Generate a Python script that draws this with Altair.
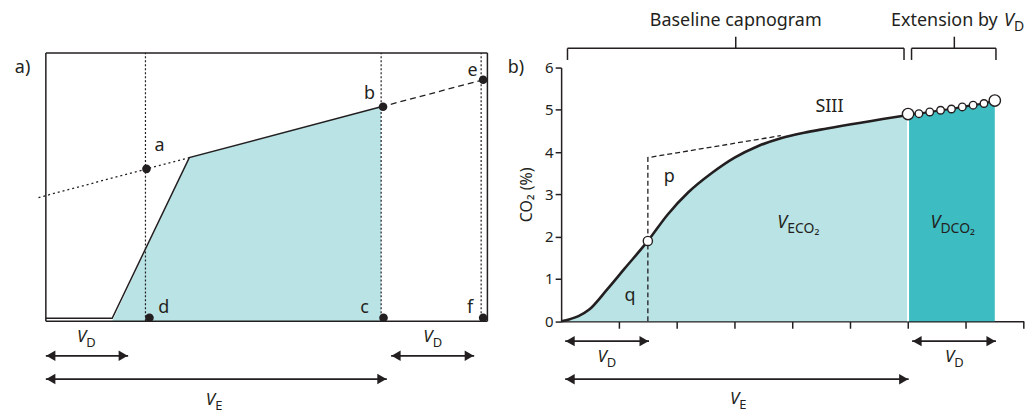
import altair as alt
import pandas as pd

FONT = "Noto Sans"
INK = "#231f20"
LIGHT = "#b9e3e5"
DARK = "#3dbdc2"

# ---------------- Panel a data ----------------
a_box_x = [0.0, 4.433]
a_box_y = [0.0, 2.693]
a_vlines = [1.0, 3.366, 4.37]
a_poly_x = [0.666, 1.44, 3.366]
a_poly_y = [0.0, 1.643, 2.153]
a_outline_x = [0.0, 0.666, 1.44, 3.366]
a_outline_y = [0.03, 0.03, 1.643, 2.153]
a_dotted_x = [-0.074, 1.44]
a_dotted_y = [1.242, 1.643]
a_dashed_x = [3.366, 4.37]
a_dashed_y = [2.153, 2.419]
a_pt_x = [1.01, 3.385, 4.39, 1.04, 3.39, 4.39]
a_pt_y = [1.53, 2.153, 2.425, 0.035, 0.035, 0.035]
a_lab = ["a", "b", "e", "d", "c", "f"]
a_lab_x = [1.14, 3.25, 4.283, 1.183, 3.2, 4.26]
a_lab_y = [1.76, 2.277, 2.51, 0.137, 0.137, 0.137]
a_arrow_x1 = [0.0, 3.466, 0.0]
a_arrow_x2 = [0.826, 4.30, 3.423]
a_arrow_y = [-0.347, -0.347, -0.58]
a_arrow_sub = ["D", "D", "E"]
a_vlab_x = [0.406, 3.883, 1.70]
a_vlab_y = [-0.16, -0.155, -0.79]
a_head = 0.05
a_panel_x, a_panel_y = [-0.234], [2.543]

# ---------------- Panel b data ----------------
b_curve_x = [0, 0.15, 0.3, 0.48, 0.8, 1.1, 1.5, 1.84, 2.2, 2.6, 3.0, 3.4, 3.8, 4.2, 4.6, 6.0]
b_curve_y = [0, 0.05, 0.12, 0.27, 0.76, 1.25, 1.9, 2.52, 3.05, 3.5, 3.87, 4.14, 4.33, 4.46, 4.56, 4.88]
b_ext_x = [6.0, 6.1875, 6.375, 6.5625, 6.75, 6.9375, 7.125, 7.3125, 7.5]
b_ext_y = [4.9, 4.91, 4.95, 4.99, 5.02, 5.07, 5.11, 5.15, 5.22]
b_ext_big = [1, 0, 0, 0, 0, 0, 0, 0, 1]
b_p_x = [1.5, 1.5, 3.8]
b_p_y = [0.0, 3.87, 4.39]
b_circle = (1.5, 1.9)
b_xticks = [1, 2, 3, 4, 5, 6, 7, 8]
b_yticks = [0, 1, 2, 3, 4, 5, 6]
b_lab = ["p", "q", "SIII"]
b_lab_x = [1.87, 1.19, 4.64]
b_lab_y = [3.42, 0.6, 5.06]
b_arrow_x1 = [0.07, 6.07, 0.07]
b_arrow_x2 = [1.52, 7.52, 6.01]
b_arrow_y = [-0.47, -0.47, -1.37]
b_arrow_sub = ["D", "D", "E"]
b_vlab_x = [0.79, 6.8, 3.08]
b_vlab_y = [-0.84, -0.84, -1.85]
b_head = 0.086
b_area_sub = ["ECO\u2082", "DCO\u2082"]
b_area_x = [3.91, 6.56]
b_area_y = [2.33, 2.33]
# brackets
b_br_x1 = [0.11, 6.06]
b_br_x2 = [5.93, 7.52]
b_br_xc = [3.02, 6.8]
b_br_y, b_br_yend, b_br_ytop = 6.455, 6.18, 6.73
b_br_text_y = 7.09
b_ext_text_x = 7.55
b_ext_v_x = 7.83
b_panel_x, b_panel_y = [-0.78], [6.0]


def df(**cols):
    return pd.DataFrame(cols)


def text_layer(d, X, Y, **kw):
    base = dict(font=FONT, color=INK, baseline="middle")
    base.update(kw)
    return alt.Chart(d).mark_text(**base).encode(x=X, y=Y, text="t:N")


def arrows(X, Y, X2, x1, x2, y, head):
    shafts = alt.Chart(df(x=x1, x2=x2, y=y)).mark_rule(color=INK, strokeWidth=1.8).encode(
        x=X, x2=X2, y=Y)
    lh = alt.Chart(df(x=[v + head for v in x1], y=y)).mark_point(
        shape="triangle-left", filled=True, color=INK, opacity=1, size=110).encode(x=X, y=Y)
    rh = alt.Chart(df(x=[v - head for v in x2], y=y)).mark_point(
        shape="triangle-right", filled=True, color=INK, opacity=1, size=110).encode(x=X, y=Y)
    return [shafts, lh, rh]


def vlabels(X, Y, xs, ys, subs, vsize=17, ssize=13):
    v = text_layer(df(x=xs, y=ys, t=["V"] * len(xs)), X, Y, align="right",
                   fontSize=vsize, fontStyle="italic")
    s = text_layer(df(x=xs, y=ys, t=subs), X, Y, align="left", fontSize=ssize, dy=6)
    return [v, s]


# ---------------- Panel a ----------------
sxa = alt.Scale(domain=[0, 4.433], nice=False, zero=False)
sya = alt.Scale(domain=[0, 2.547], nice=False, zero=False)
XA = alt.X("x:Q", scale=sxa, axis=None)
YA = alt.Y("y:Q", scale=sya, axis=None)
XA2 = alt.X2("x2:Q")
YA2 = alt.Y2("y2:Q")

box = alt.Chart(df(
    x=[a_box_x[0], a_box_x[0], a_box_x[0], a_box_x[1]],
    x2=[a_box_x[1], a_box_x[1], a_box_x[0], a_box_x[1]],
    y=[a_box_y[0], a_box_y[1], a_box_y[0], a_box_y[0]],
    y2=[a_box_y[0], a_box_y[1], a_box_y[1], a_box_y[1]],
)).mark_rule(color=INK, strokeWidth=1.5).encode(x=XA, x2=XA2, y=YA, y2=YA2)

poly = alt.Chart(df(x=a_poly_x, y=a_poly_y)).mark_area(color=LIGHT, opacity=1).encode(x=XA, y=YA)

vl = alt.Chart(df(x=a_vlines, y=[0] * 3, y2=[a_box_y[1]] * 3)).mark_rule(
    color=INK, strokeWidth=1.2, strokeDash=[2, 2]).encode(x=XA, y=YA, y2=YA2)

outline = alt.Chart(df(x=a_outline_x, y=a_outline_y, i=list(range(4)))).mark_line(
    color=INK, strokeWidth=1.5).encode(x=XA, y=YA, order="i:Q")
dotted = alt.Chart(df(x=a_dotted_x, y=a_dotted_y)).mark_line(
    color=INK, strokeWidth=1.3, strokeDash=[2, 3]).encode(x=XA, y=YA)
dashed = alt.Chart(df(x=a_dashed_x, y=a_dashed_y)).mark_line(
    color=INK, strokeWidth=1.3, strokeDash=[6, 4]).encode(x=XA, y=YA)
pts = alt.Chart(df(x=a_pt_x, y=a_pt_y)).mark_point(
    filled=True, color=INK, opacity=1, size=75).encode(x=XA, y=YA)
labs = text_layer(df(x=a_lab_x, y=a_lab_y, t=a_lab), XA, YA, fontSize=18)
plab = text_layer(df(x=a_panel_x, y=a_panel_y, t=["a)"]), XA, YA, fontSize=18)

panel_a = alt.layer(
    poly, vl, box, outline, dotted, dashed, pts, labs, plab,
    *arrows(XA, YA, XA2, a_arrow_x1, a_arrow_x2, a_arrow_y, a_head),
    *vlabels(XA, YA, a_vlab_x, a_vlab_y, a_arrow_sub),
).properties(width=443.3, height=254.7)

# ---------------- Panel b ----------------
sxb = alt.Scale(domain=[0, 8], nice=False, zero=False)
syb = alt.Scale(domain=[0, 6], nice=False, zero=False)
XB = alt.X("x:Q", scale=sxb, axis=alt.Axis(
    values=b_xticks, labels=False, tickSize=7, tickWidth=1.5, domainWidth=1.5,
    domainColor=INK, tickColor=INK, grid=False, title=None))
YB = alt.Y("y:Q", scale=syb, axis=alt.Axis(
    values=b_yticks, tickSize=6, tickWidth=1.5, domainWidth=1.5, domainColor=INK,
    tickColor=INK, grid=False, labelFont=FONT, labelFontSize=15, labelColor=INK,
    labelPadding=2, title="CO\u2082 (%)", titleFont=FONT, titleFontSize=16,
    titleFontWeight="normal", titleColor=INK, titlePadding=10))
XB2 = alt.X2("x2:Q")
YB2 = alt.Y2("y2:Q")

curve = df(x=b_curve_x, y=b_curve_y)
ext = df(x=b_ext_x, y=b_ext_y, big=b_ext_big)
area1 = alt.Chart(curve).mark_area(color=LIGHT, opacity=1, interpolate="monotone").encode(x=XB, y=YB)
area2 = alt.Chart(ext).mark_area(color=DARK, opacity=1).encode(x=XB, y=YB)
divider = alt.Chart(df(x=[6.0], y=[0.0], y2=[4.9])).mark_rule(
    color="white", strokeWidth=2).encode(x=XB, y=YB, y2=YB2)
line1 = alt.Chart(curve).mark_line(color=INK, strokeWidth=2.6, interpolate="monotone").encode(x=XB, y=YB)
line2 = alt.Chart(ext).mark_line(color=INK, strokeWidth=2.2).encode(x=XB, y=YB)
pline = alt.Chart(df(x=b_p_x, y=b_p_y, i=[0, 1, 2])).mark_line(
    color=INK, strokeWidth=1.3, strokeDash=[5, 3]).encode(x=XB, y=YB, order="i:Q")
circ = alt.Chart(df(x=[b_circle[0]], y=[b_circle[1]])).mark_point(
    shape="circle", filled=True, fill="white", stroke=INK, strokeWidth=1.4, opacity=1,
    size=85).encode(x=XB, y=YB)
ext_pts = alt.Chart(ext).mark_point(
    shape="circle", filled=True, fill="white", stroke=INK, strokeWidth=1.4, opacity=1).encode(
    x=XB, y=YB,
    size=alt.Size("big:N", scale=alt.Scale(domain=[0, 1], range=[58, 130]), legend=None))

br_h = alt.Chart(df(x=b_br_x1, x2=b_br_x2, y=[b_br_y] * 2)).mark_rule(
    color=INK, strokeWidth=1.5).encode(x=XB, x2=XB2, y=YB)
br_e = alt.Chart(df(x=b_br_x1 + b_br_x2, y=[b_br_yend] * 4, y2=[b_br_y] * 4)).mark_rule(
    color=INK, strokeWidth=1.5).encode(x=XB, y=YB, y2=YB2)
br_c = alt.Chart(df(x=b_br_xc, y=[b_br_y] * 2, y2=[b_br_ytop] * 2)).mark_rule(
    color=INK, strokeWidth=1.5).encode(x=XB, y=YB, y2=YB2)
t_base = text_layer(df(x=[b_br_xc[0]], y=[b_br_text_y], t=["Baseline capnogram"]), XB, YB,
                    fontSize=18, align="center")
t_ext = text_layer(df(x=[b_ext_text_x], y=[b_br_text_y], t=["Extension by"]), XB, YB,
                   fontSize=18, align="right")
t_ext_v = vlabels(XB, YB, [b_ext_v_x], [b_br_text_y], ["D"], vsize=18, ssize=14)

blabs = text_layer(df(x=b_lab_x, y=b_lab_y, t=b_lab), XB, YB, fontSize=18)
bplab = text_layer(df(x=b_panel_x, y=b_panel_y, t=["b)"]), XB, YB, fontSize=18)

panel_b = alt.layer(
    area1, area2, divider, pline, line1, line2, circ, ext_pts,
    br_h, br_e, br_c, t_base, t_ext, *t_ext_v, blabs, bplab,
    *vlabels(XB, YB, b_area_x, b_area_y, b_area_sub, vsize=18, ssize=14),
    *arrows(XB, YB, XB2, b_arrow_x1, b_arrow_x2, b_arrow_y, b_head),
    *vlabels(XB, YB, b_vlab_x, b_vlab_y, b_arrow_sub),
).properties(width=464.4, height=254.7)

chart = alt.hconcat(panel_a, panel_b, spacing=73.3).properties(
    bounds="flush",
    background="white",
    padding={"left": 6, "top": 3, "right": 2, "bottom": 2},
).configure_view(stroke=None)

chart.save("out.html", embed_options={"renderer": "svg", "actions": False})
